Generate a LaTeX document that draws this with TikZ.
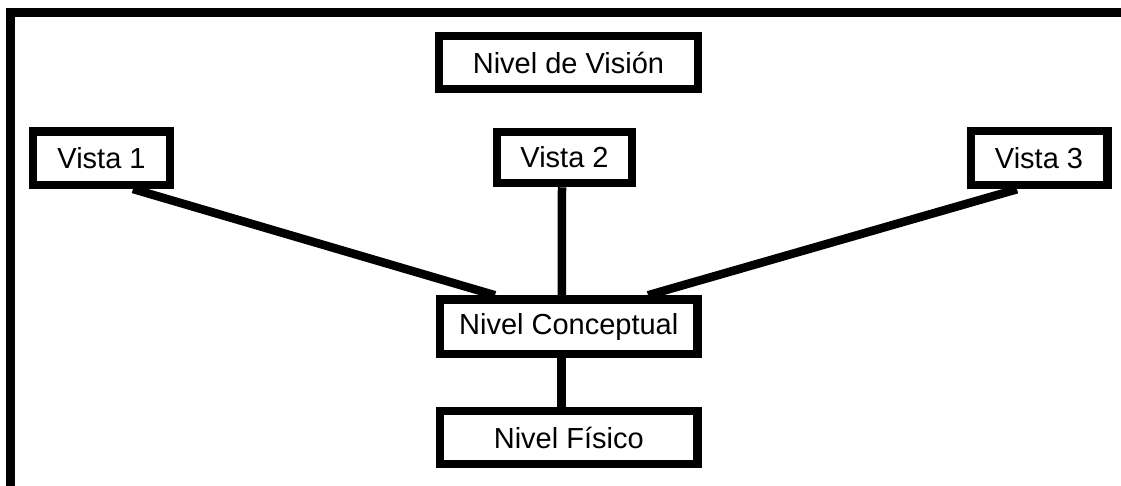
\documentclass[tikz,border=0pt]{standalone}
\usepackage{fontspec}
\setmainfont{Liberation Sans}
\begin{document}
\begin{tikzpicture}[x=1pt,y=-1pt,
  boxnode/.style={draw=black,line width=8.5pt,fill=white,rectangle,inner sep=0pt,font=\fontsize{29}{33}\selectfont},
  link/.style={draw=black,line width=8.5pt}]
\useasboundingbox (0,0) rectangle (1121,485);
% frame
\draw[line width=8.5pt,line join=miter] (10.5,490) -- (10.5,12.5) -- (1130,12.5);
% nodes
\node[boxnode,minimum width=259pt,minimum height=53pt] (vis) at (568.5,62.5) {Nivel de Visión};
\node[boxnode,minimum width=137pt,minimum height=53.5pt] (v1) at (101.5,158) {Vista 1};
\node[boxnode,minimum width=135pt,minimum height=51pt] (v2) at (564.5,157.5) {Vista 2};
\node[boxnode,minimum width=136.5pt,minimum height=54pt] (v3) at (1039,158) {Vista 3};
\node[boxnode,minimum width=257.5pt,minimum height=54.5pt] (conc) at (568.75,326.75) {Nivel Conceptual};
\node[boxnode,minimum width=257.5pt,minimum height=53pt] (fis) at (568.75,437.5) {Nivel Físico};
% connectors
\draw[link] ([xshift=31.5pt]v1.south) -- ([xshift=-73.75pt]conc.north);
\draw[link] ([xshift=-2.5pt]v2.south) -- ([xshift=-7pt]conc.north);
\draw[link] ([xshift=-22pt]v3.south) -- ([xshift=79.25pt]conc.north);
\draw[link] ([xshift=-7.5pt]conc.south) -- ([xshift=-7.5pt]fis.north);
\end{tikzpicture}
\end{document}
